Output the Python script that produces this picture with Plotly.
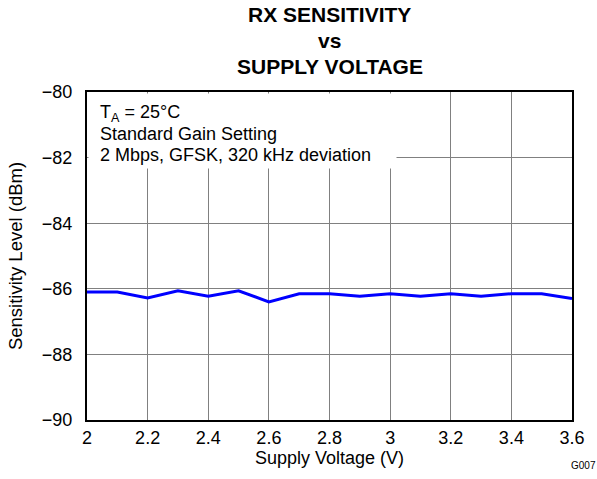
import plotly.graph_objects as go

voltage = [2.0, 2.1, 2.2, 2.3, 2.4, 2.5, 2.6, 2.7, 2.8, 2.9, 3.0, 3.1, 3.2, 3.3, 3.4, 3.5, 3.6]
sensitivity = [-86.10, -86.10, -86.28, -86.06, -86.23, -86.06, -86.40, -86.15, -86.15,
               -86.23, -86.15, -86.23, -86.15, -86.23, -86.15, -86.15, -86.30]
x_ticks = [2, 2.2, 2.4, 2.6, 2.8, 3, 3.2, 3.4, 3.6]
y_ticks = [-90, -88, -86, -84, -82, -80]
title_lines = ["RX SENSITIVITY", "vs", "SUPPLY VOLTAGE"]
note_lines = ["T<sub>A</sub> = 25°C", "Standard Gain Setting", "2 Mbps, GFSK, 320 kHz deviation"]

font_family = "Liberation Sans, Arial, sans-serif"

fig = go.Figure()
fig.add_trace(go.Scatter(x=voltage, y=sensitivity, mode="lines",
                         line=dict(color="#0000FF", width=3), showlegend=False))

fig.update_layout(
    width=597, height=479,
    margin=dict(l=87, r=23, t=92, b=59),
    paper_bgcolor="white", plot_bgcolor="white",
    font=dict(family=font_family, size=18, color="black"),
    xaxis=dict(range=[2, 3.6], tickvals=x_ticks, ticktext=[str(v) for v in x_ticks],
               showgrid=True, gridcolor="#808080", gridwidth=1,
               showline=True, linecolor="black", linewidth=2, mirror=True,
               ticks="", zeroline=False,
               title=dict(text="Supply Voltage (V)", standoff=4, font=dict(size=18)),
               tickfont=dict(size=18)),
    yaxis=dict(range=[-90, -80], tickvals=y_ticks,
               showgrid=True, gridcolor="#808080", gridwidth=1,
               showline=True, linecolor="black", linewidth=2, mirror=True,
               ticks="outside", ticklen=9, tickcolor="rgba(0,0,0,0)", zeroline=False,
               title=dict(text="Sensitivity Level (dBm)", standoff=14, font=dict(size=18.5)),
               tickfont=dict(size=18)),
)

for i, t in enumerate(title_lines):
    fig.add_annotation(text="<b>" + t + "</b>", xref="paper", yref="paper",
                       x=0.5, y=1, yshift=77.5 - i * 26.2, xanchor="center", yanchor="middle",
                       showarrow=False, font=dict(size=21, family=font_family))

# white box that hides the gridlines behind the condition notes
fig.add_annotation(text=" ", xref="paper", yref="paper", x=0, y=1,
                   xshift=1, yshift=-1, xanchor="left", yanchor="top",
                   showarrow=False, width=307, height=74, borderpad=0,
                   bgcolor="white", font=dict(size=10))

note_shift = [-21, -42, -63]
for t, ys in zip(note_lines, note_shift):
    fig.add_annotation(text=t, xref="paper", yref="paper", x=0, y=1,
                       xshift=11, yshift=ys, xanchor="left", yanchor="middle",
                       align="left", showarrow=False,
                       font=dict(size=18, family=font_family))

fig.add_annotation(text="G007", xref="paper", yref="paper", x=1, y=0,
                   xshift=26, yshift=-45, xanchor="right", yanchor="middle",
                   showarrow=False, font=dict(size=10, family=font_family))

fig.write_html("out.html", config={"displayModeBar": False},
               post_script="document.body.style.margin='0';")
